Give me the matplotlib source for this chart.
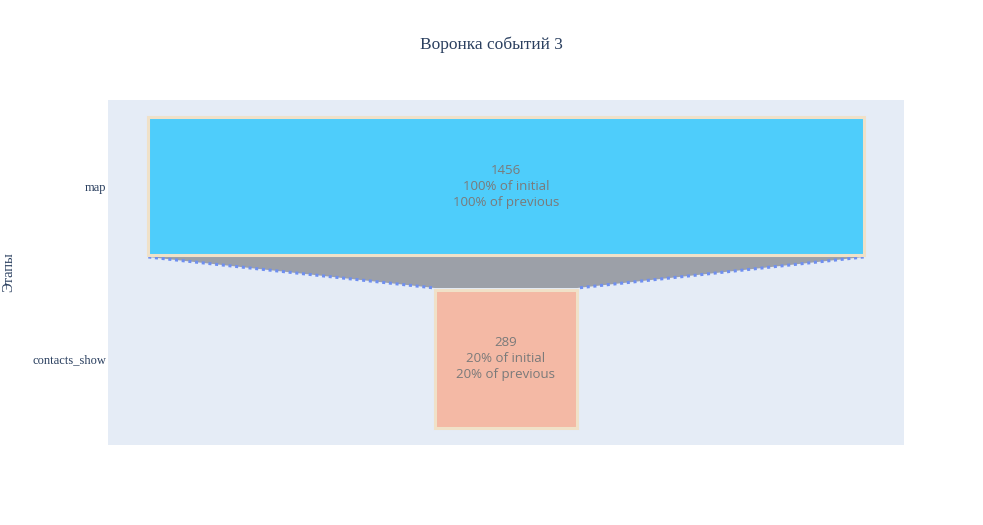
import matplotlib
matplotlib.use("Agg")
import matplotlib.pyplot as plt
from matplotlib.patches import Polygon

stages = ["map", "contacts_show"]
values = [1456, 289]
pct_initial = ["100%", "20%"]
pct_previous = ["100%", "20%"]
colors = ["#4ecdfb", "#f4b9a5"]
title = "Воронка событий 3"
ylabel = "Этапы"

fig = plt.figure(figsize=(9.83, 5.25), dpi=100)
ax = fig.add_axes([108/983, 1-445/525, 796/983, 345/525])
ax.set_facecolor("#e5ecf6")
for s in ax.spines.values():
    s.set_visible(False)

half = 810
ax.set_xlim(-half, half)
ax.set_ylim(1.5, -0.5)
bw = 0.8

for i, (v, c) in enumerate(zip(values, colors)):
    ax.barh(i, v, left=-v/2, height=bw, color=c, edgecolor="#f0e1c8",
            linewidth=2.2, zorder=3)
    ax.text(0, i, f"{v}\n{pct_initial[i]} of initial\n{pct_previous[i]} of previous",
            ha="center", va="center", color="#7a7a7a", fontsize=9.5,
            family="Open Sans", linespacing=1.3, zorder=4)

for i in range(len(values)-1):
    v0, v1 = values[i], values[i+1]
    y0 = i + bw/2 + 0.01
    y1 = i + 1 - bw/2 - 0.01
    poly = Polygon([(-v0/2, y0), (v0/2, y0), (v1/2, y1), (-v1/2, y1)],
                   closed=True, facecolor="#9ca0a8", edgecolor="none", zorder=2)
    ax.add_patch(poly)
    for sgn in (-1, 1):
        ax.plot([sgn*v0/2, sgn*v1/2], [y0, y1], color="#6f8ff0", lw=2.2,
                linestyle=(0, (1, 1.2)), zorder=2.5)

ax.set_yticks(range(len(stages)))
ax.set_yticklabels(stages, family="Liberation Serif", fontsize=9, color="#2a3f5f")
ax.tick_params(axis="y", length=0, pad=1)
ax.set_xticks([])

fig.text(9/983, 1-272/525, ylabel, rotation=90, ha="center", va="center",
         family="Liberation Serif", fontsize=10.5, color="#2a3f5f")

fig.text(491/983, 1-45/525, title, ha="center", va="center",
         family="Liberation Serif", fontsize=12.5, color="#2a3f5f")

fig.savefig("out.png", dpi=100, facecolor="white")
